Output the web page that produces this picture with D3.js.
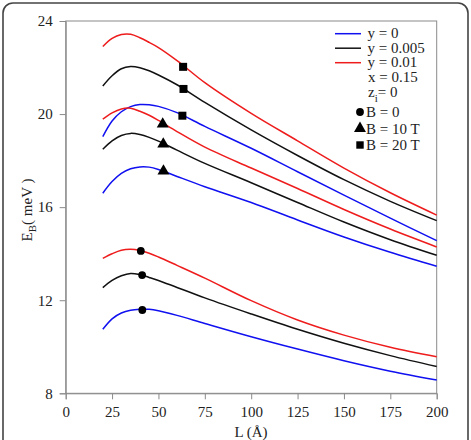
<!DOCTYPE html>
<html><head><meta charset="utf-8">
<script src="https://cdn.jsdelivr.net/npm/d3@7"></script>
<style>
html,body{margin:0;padding:0;background:#fff;}
</style>
</head><body>
<svg id="c" width="471" height="440"></svg>
<script>
// ---- data ----
const xTicks = [0,25,50,75,100,125,150,175,200];
const yTicks = [8,12,16,20,24];
const L = [20,25,30,35,40,45,50,60,75,100,125,150,175,200];
// B = 20 T
const red20   = [22.90,23.25,23.42,23.43,23.28,23.08,22.86,22.30,21.35,20.03,18.85,17.68,16.62,15.66];
const black20 = [21.21,21.65,21.95,22.04,21.99,21.86,21.68,21.26,20.50,19.32,18.22,17.18,16.25,15.42];
const blue20  = [19.03,19.70,20.10,20.32,20.41,20.40,20.33,20.06,19.47,18.53,17.52,16.52,15.53,14.56];
// B = 10 T
const red10   = [19.78,20.05,20.22,20.25,20.12,19.95,19.73,19.25,18.58,17.68,16.80,15.90,15.06,14.29];
const black10 = [18.49,18.85,19.08,19.17,19.12,19.00,18.84,18.45,17.88,17.05,16.20,15.36,14.60,13.93];
const blue10  = [16.60,17.10,17.45,17.65,17.73,17.72,17.62,17.32,16.88,16.20,15.45,14.72,14.06,13.46];
// B = 0
const red0    = [13.80,14.00,14.15,14.19,14.14,14.02,13.86,13.50,12.95,11.98,11.15,10.50,9.98,9.57];
const black0  = [12.54,12.85,13.05,13.15,13.10,12.98,12.85,12.55,12.10,11.41,10.75,10.15,9.62,9.15];
const blue0   = [10.75,11.20,11.45,11.57,11.61,11.61,11.55,11.35,11.00,10.43,9.90,9.40,8.95,8.57];
// markers
const circleL = [40.5,41.2,41.3], circleE = [14.12,13.08,11.58];
const triL = [52.3,52.6,52.7],    triE = [19.57,18.71,17.55];
const sqL = [63.3,63.5,62.9],     sqE = [22.03,21.08,19.93];
const legendLines = ["y = 0","y = 0.005","y = 0.01"];
const legendColors = ["#1010f0","#111111","#ee1c1c"];
const legendSymbols = ["B = 0","B = 10 T","B = 20 T"];

// ---- chart ----
const FONT = '"Liberation Serif", "Times New Roman", Times, "DejaVu Serif", serif';
const svg = d3.select("#c");
const m = {left:65.7, right:436.7, top:21, bottom:393.3};
const x = d3.scaleLinear().domain([0,200]).range([m.left,m.right]);
const y = d3.scaleLinear().domain([8,24]).range([m.bottom,m.top]);

// outer rounded frame
svg.append("rect").attr("x",3).attr("y",3).attr("width",465).attr("height",450)
  .attr("rx",10).attr("fill","none").attr("stroke","#444").attr("stroke-width",1.6);

// plot frame
svg.append("rect").attr("x",m.left).attr("y",m.top).attr("width",m.right-m.left).attr("height",m.bottom-m.top)
  .attr("fill","none").attr("stroke","#8a8a8a").attr("stroke-width",1);

const gx = svg.append("g").attr("transform",`translate(0,${m.bottom})`)
  .call(d3.axisBottom(x).tickValues(xTicks).tickSize(6).tickPadding(7));
const gy = svg.append("g").attr("transform",`translate(${m.left},0)`)
  .call(d3.axisLeft(y).tickValues(yTicks).tickSize(6).tickPadding(7));
[gx,gy].forEach(g=>{
  g.attr("font-family",null).attr("font-size",null);
  g.selectAll("path,line").attr("stroke","#8a8a8a");
  g.selectAll("text").style("font-family",FONT).style("font-size","15px").attr("fill","#222");
});

const series = [
  [red20,legendColors[2]],[black20,legendColors[1]],[blue20,legendColors[0]],
  [red10,legendColors[2]],[black10,legendColors[1]],[blue10,legendColors[0]],
  [red0,legendColors[2]],[black0,legendColors[1]],[blue0,legendColors[0]]
];
const line = d3.line().x((d,i)=>x(L[i])).y(d=>y(d)).curve(d3.curveCatmullRom.alpha(0.5));
series.forEach(([vals,col])=>{
  svg.append("path").attr("d",line(vals)).attr("fill","none").attr("stroke",col).attr("stroke-width",1.5);
});

function markers(Ls,Es,type,size){
  Ls.forEach((l,i)=>{
    svg.append("path").attr("d",d3.symbol().type(type).size(size)())
      .attr("transform",`translate(${x(l)},${y(Es[i])})`).attr("fill","#000");
  });
}
markers(circleL,circleE,d3.symbolCircle,48);
markers(triL,triE,d3.symbolTriangle,62);
markers(sqL,sqE,d3.symbolSquare,64);

function txt(g){ return g.append("text").style("font-family",FONT).style("font-size","15px").attr("fill","#222"); }

// legend
const lg = svg.append("g");
legendLines.forEach((t,i)=>{
  const yy = 33.7 + i*14.5;
  lg.append("line").attr("x1",335).attr("x2",361).attr("y1",yy).attr("y2",yy)
    .attr("stroke",legendColors[i]).attr("stroke-width",1.5);
  txt(lg).attr("x",367.5).attr("y",yy+4.5).text(t);
});
txt(lg).attr("x",368).attr("y",82).text("x = 0.15");
const zt = txt(lg).attr("x",368).attr("y",97);
zt.append("tspan").text("z");
zt.append("tspan").attr("dy",5).style("font-size","11px").text("i");
zt.append("tspan").attr("dy",-5).text("= 0");
const symTypes = [d3.symbolCircle,d3.symbolTriangle,d3.symbolSquare];
const symSizes = [48,62,55];
legendSymbols.forEach((t,i)=>{
  const yy = 112 + i*16.5;
  lg.append("path").attr("d",d3.symbol().type(symTypes[i]).size(symSizes[i])())
    .attr("transform",`translate(360,${yy})`).attr("fill","#000");
  txt(lg).attr("x",366).attr("y",yy+5).text(t);
});

// axis titles
txt(svg).attr("x",251).attr("y",437).attr("text-anchor","middle").text("L (Å)");
const yt = txt(svg).attr("transform","translate(32,210) rotate(-90)").attr("text-anchor","middle");
yt.append("tspan").text("E");
yt.append("tspan").attr("dy",4).style("font-size","11px").text("B");
yt.append("tspan").attr("dy",-4).text("( meV )");
</script>
</body></html>
